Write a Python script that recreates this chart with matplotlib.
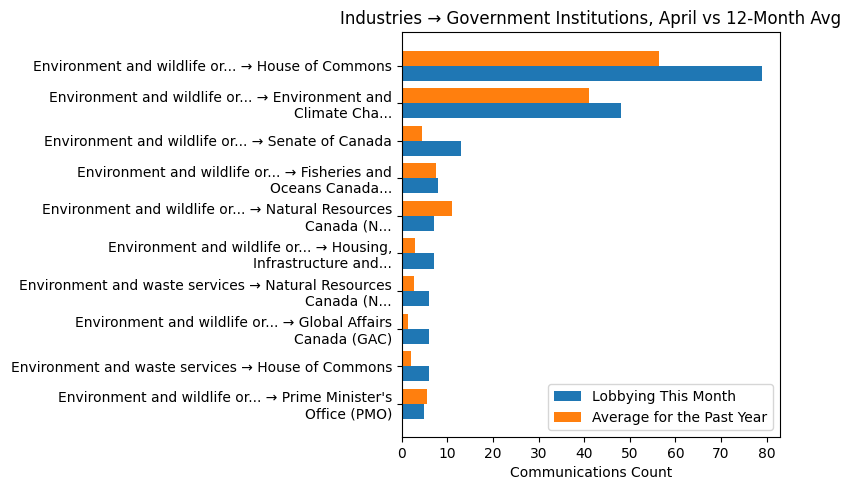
import numpy as np
import matplotlib.pyplot as plt

labels = [
    "Environment and wildlife or... \u2192 House of Commons",
    "Environment and wildlife or... \u2192 Environment and\nClimate Cha...",
    "Environment and wildlife or... \u2192 Senate of Canada",
    "Environment and wildlife or... \u2192 Fisheries and\nOceans Canada...",
    "Environment and wildlife or... \u2192 Natural Resources\nCanada (N...",
    "Environment and wildlife or... \u2192 Housing,\nInfrastructure and...",
    "Environment and waste services \u2192 Natural Resources\nCanada (N...",
    "Environment and wildlife or... \u2192 Global Affairs\nCanada (GAC)",
    "Environment and waste services \u2192 House of Commons",
    "Environment and wildlife or... \u2192 Prime Minister's\nOffice (PMO)",
]
this_month = [79, 48, 13, 8, 7, 7, 6, 6, 6, 5]
past_year_avg = [56.4, 41.0, 4.4, 7.5, 11.0, 2.9, 2.7, 1.4, 2.0, 5.5]

y = np.arange(len(labels))
h = 0.4

fig, ax = plt.subplots(figsize=(8.51, 4.9), dpi=100)
ax.barh(y + h / 2, this_month, height=h, label='Lobbying This Month')
ax.barh(y - h / 2, past_year_avg, height=h, label='Average for the Past Year')

ax.set_yticks(y)
ax.set_yticklabels(labels)
ax.invert_yaxis()
ax.set_xlabel('Communications Count')
ax.set_title('Industries \u2192 Government Institutions, April vs 12-Month Avg')
ax.legend(loc='lower right')

fig.subplots_adjust(left=0.472, right=0.9166, top=0.934, bottom=0.108)
fig.savefig('out.png')
